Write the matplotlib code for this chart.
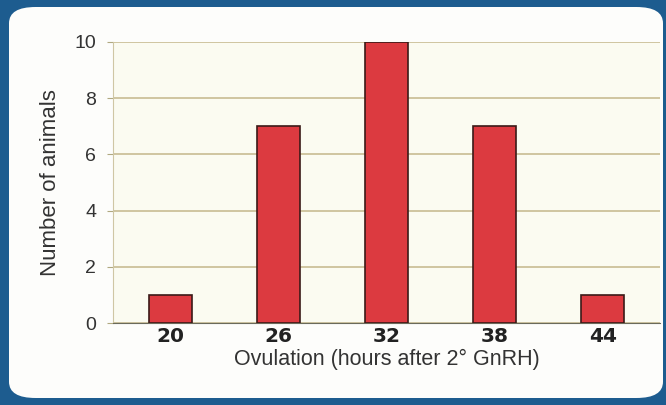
import matplotlib.pyplot as plt
from matplotlib.patches import FancyBboxPatch

# data
hours = ["20", "26", "32", "38", "44"]
animals = [1, 7, 10, 7, 1]
yticks = [0, 2, 4, 6, 8, 10]

fig = plt.figure(figsize=(6.66, 4.05), dpi=100)
fig.patch.set_facecolor("#1d5c8f")

# white rounded card behind the chart
W, H = 666.0, 405.0
card = FancyBboxPatch((9 / W, 7 / H), (663 - 9) / W, (398 - 7) / H,
                      boxstyle="round,pad=0,rounding_size=0.04",
                      transform=fig.transFigure, facecolor="#fdfdfb",
                      edgecolor="none", zorder=-5)
fig.patches.append(card)

ax = fig.add_axes([113 / W, 1 - 323 / H, (660 - 113) / W, (323 - 42) / H])
ax.set_facecolor("#fbfbf1")

x = range(len(hours))
ax.bar(x, animals, width=0.4, color="#dc3a40", edgecolor="#3a1a18",
       linewidth=1.2, zorder=3)

ax.set_xlim(-0.53, 4.53)
ax.set_ylim(0, 10)
ax.set_yticks(yticks)
ax.set_yticklabels([str(v) for v in yticks], fontsize=14,
                   family="Liberation Sans", color="#333333")
ax.set_xticks(list(x))
ax.set_xticklabels(hours, fontsize=14.5, fontweight="bold",
                   family="DejaVu Sans", color="#222222")

ax.grid(axis="y", color="#c4b78a", linewidth=1.1, zorder=1)
ax.set_axisbelow(True)
for s in ["top", "right"]:
    ax.spines[s].set_visible(False)
ax.spines["left"].set_color("#cfc6a4")
ax.spines["bottom"].set_color("#6a6a5a")
ax.tick_params(axis="y", length=4, color="#b0a880", pad=8)
ax.tick_params(axis="x", length=0, pad=3)

ax.set_xlabel("Ovulation (hours after 2° GnRH)", fontsize=15.5,
              family="Liberation Sans", color="#333333", labelpad=2)
ax.set_ylabel("Number of animals", fontsize=16, family="Liberation Sans",
              color="#333333", labelpad=10)

fig.savefig("out.png", dpi=100, facecolor=fig.get_facecolor())
